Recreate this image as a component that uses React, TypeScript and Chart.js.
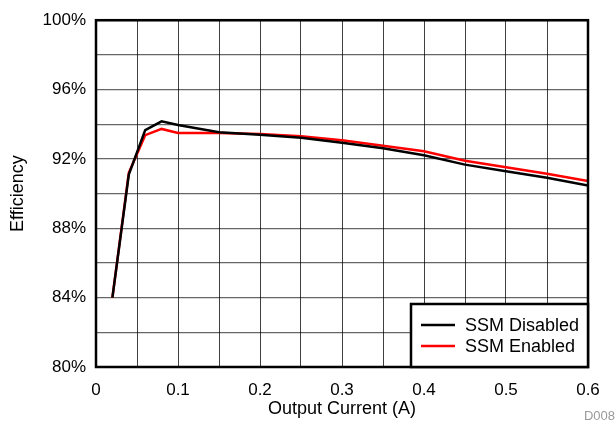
import React, { useEffect, useRef } from 'react';
import { Chart, registerables } from 'chart.js';

Chart.register(...registerables);

const currents = [0.02, 0.04, 0.06, 0.08, 0.1, 0.15, 0.2, 0.25, 0.3, 0.35, 0.4, 0.45, 0.5, 0.55, 0.6];
const ssmDisabled = [84.0, 91.1, 93.66, 94.17, 93.96, 93.54, 93.39, 93.22, 92.93, 92.61, 92.21, 91.67, 91.29, 90.91, 90.46];
const ssmEnabled = [84.0, 91.2, 93.37, 93.73, 93.5, 93.5, 93.43, 93.31, 93.07, 92.76, 92.44, 91.9, 91.52, 91.14, 90.72];
const seriesNames = ['SSM Disabled', 'SSM Enabled'];
const seriesColors = ['#000000', '#ff0000'];
const xLabelValues = [0, 0.1, 0.2, 0.3, 0.4, 0.5, 0.6];
const yLabelValues = [80, 84, 88, 92, 96, 100];
const xTitle = 'Output Current (A)';
const yTitle = 'Efficiency';
const figureId = 'D008';

const FONT = '"Liberation Sans", Arial, Helvetica, sans-serif';

const framePlugin = {
  id: 'frameAndLegend',
  afterDatasetsDraw(chart: any) {
    const { ctx, chartArea } = chart;
    const { left, right, top, bottom } = chartArea;
    ctx.save();
    // plot frame
    ctx.strokeStyle = '#000';
    ctx.lineWidth = 2.5;
    ctx.strokeRect(left, top, right - left, bottom - top);

    // legend box
    const bw = 177;
    const bh = 63;
    const bx = right - bw;
    const by = bottom - bh;
    ctx.fillStyle = '#fff';
    ctx.fillRect(bx, by, bw, bh);
    ctx.lineWidth = 2.5;
    ctx.strokeRect(bx, by, bw, bh);
    ctx.font = `18px ${FONT}`;
    ctx.textBaseline = 'middle';
    ctx.textAlign = 'left';
    chart.data.datasets.forEach((ds: any, i: number) => {
      const yy = by + 21 + i * 21;
      ctx.strokeStyle = ds.borderColor;
      ctx.lineWidth = 2.5;
      ctx.beginPath();
      ctx.moveTo(bx + 10, yy);
      ctx.lineTo(bx + 44, yy);
      ctx.stroke();
      ctx.fillStyle = '#000';
      ctx.fillText(ds.label, bx + 54, yy + 1);
    });

    // figure id
    ctx.fillStyle = '#9a9a9a';
    ctx.font = `13px ${FONT}`;
    ctx.textAlign = 'right';
    ctx.textBaseline = 'middle';
    ctx.fillText(figureId, 615, 416);
    ctx.restore();
  },
};

export default function App() {
  const canvasRef = useRef<HTMLCanvasElement | null>(null);

  useEffect(() => {
    if (!canvasRef.current) return;
    const chart = new Chart(canvasRef.current, {
      type: 'line',
      data: {
        datasets: [
          {
            label: seriesNames[0],
            data: currents.map((x, i) => ({ x, y: ssmDisabled[i] })),
            borderColor: seriesColors[0],
            backgroundColor: seriesColors[0],
            borderWidth: 2.5,
            pointRadius: 0,
            tension: 0,
          },
          {
            label: seriesNames[1],
            data: currents.map((x, i) => ({ x, y: ssmEnabled[i] })),
            borderColor: seriesColors[1],
            backgroundColor: seriesColors[1],
            borderWidth: 2.5,
            pointRadius: 0,
            tension: 0,
          },
        ],
      },
      options: {
        animation: false,
        responsive: false,
        maintainAspectRatio: false,
        layout: { padding: { top: 17, right: 28, left: 0, bottom: 0 } },
        plugins: {
          legend: { display: false },
          tooltip: { enabled: false },
        },
        scales: {
          x: {
            type: 'linear',
            min: 0,
            max: 0.6,
            afterFit: (s: any) => {
              s.height = 57;
            },
            border: { display: false },
            grid: { color: 'rgba(0,0,0,0.75)', lineWidth: 1, drawTicks: false },
            ticks: {
              stepSize: 0.05,
              padding: 13,
              color: '#000',
              font: { family: FONT, size: 17 },
              maxRotation: 0,
              autoSkip: false,
              callback: (v: any) => {
                const r = Math.round(Number(v) * 100) / 100;
                return xLabelValues.some((t) => Math.abs(t - r) < 1e-6) ? String(r) : '';
              },
            },
            title: {
              display: true,
              text: xTitle,
              color: '#000',
              font: { family: FONT, size: 18 },
              padding: { top: 0, bottom: 4 },
            },
          },
          y: {
            type: 'linear',
            min: 80,
            max: 100,
            afterFit: (s: any) => {
              s.width = 96;
            },
            border: { display: false },
            grid: { color: 'rgba(0,0,0,0.6)', lineWidth: 1.2, drawTicks: false },
            ticks: {
              stepSize: 2,
              padding: 10,
              color: '#000',
              font: { family: FONT, size: 17 },
              autoSkip: false,
              callback: (v: any) => {
                const r = Math.round(Number(v));
                return yLabelValues.includes(r) ? `${r}%` : '';
              },
            },
            title: {
              display: true,
              text: yTitle,
              color: '#000',
              font: { family: FONT, size: 18 },
              padding: { top: 7, bottom: 0 },
            },
          },
        },
      },
      plugins: [framePlugin],
    } as any);
    return () => chart.destroy();
  }, []);

  return (
    <div style={{ position: 'fixed', left: 0, top: 0, width: 616, height: 424, background: '#fff' }}>
      <canvas ref={canvasRef} width={616} height={424} style={{ display: 'block' }} />
    </div>
  );
}
